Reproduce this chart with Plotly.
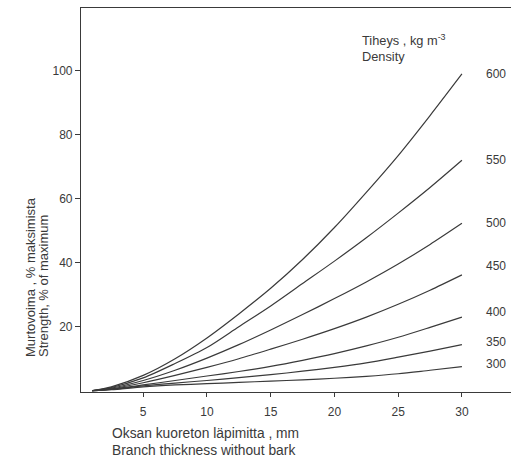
import plotly.graph_objects as go

# Branch thickness without bark, mm
thickness = [1, 2.5, 5, 7.5, 10, 12.5, 15, 17.5, 20, 22.5, 25, 27.5, 30]

# Strength, % of maximum, for each wood density (kg m^-3)
densities = ["600", "550", "500", "450", "400", "350", "300"]
strength_600 = [0, 1.2, 4.8, 10.0, 16.5, 24.0, 32.0, 41.0, 51.0, 62.0, 73.5, 86.0, 99.0]
strength_550 = [0, 1.0, 4.0, 8.5, 13.5, 20.0, 26.5, 33.5, 40.5, 47.8, 55.5, 63.5, 72.0]
strength_500 = [0, 0.8, 3.2, 6.4, 10.2, 14.4, 19.0, 23.8, 28.8, 34.0, 39.6, 45.7, 52.3]
strength_450 = [0, 0.6, 2.5, 4.8, 7.3, 10.0, 13.0, 16.1, 19.4, 23.0, 27.0, 31.4, 36.2]
strength_400 = [0, 0.5, 1.8, 3.2, 4.6, 6.0, 7.6, 9.5, 11.6, 14.0, 16.7, 19.8, 23.0]
strength_350 = [0, 0.4, 1.5, 2.4, 3.2, 4.1, 5.0, 6.1, 7.3, 8.7, 10.5, 12.4, 14.4]
strength_300 = [0, 0.3, 1.2, 1.8, 2.2, 2.6, 3.0, 3.4, 3.9, 4.5, 5.3, 6.4, 7.5]

x_ticks = [5, 10, 15, 20, 25, 30]
y_ticks = [20, 40, 60, 80, 100]

series = [strength_600, strength_550, strength_500, strength_450,
          strength_400, strength_350, strength_300]

INK = "#3a3a3a"
FONT = "Liberation Sans, Arial, Helvetica, sans-serif"

# plot area spans page x 81..511, y 8..392
PL, PT, PW, PH = 81, 8, 430, 384


def px(x):
    return (x - PL) / PW


def py(y):
    return 1 - (y - PT) / PH


fig = go.Figure()
for name, ys in zip(densities, series):
    fig.add_trace(go.Scatter(
        x=thickness, y=ys, mode="lines", name=name,
        line=dict(color=INK, width=1.2, shape="spline", smoothing=0.8),
        showlegend=False, hoverinfo="skip"))

# Curve labels at right
label_offsets = [0, 0, 0, 2.8, 1.5, 0.8, 0.8]
for name, ys, off in zip(densities, series, label_offsets):
    fig.add_annotation(x=31.7, y=ys[-1] + off, text=name, showarrow=False,
                       xanchor="left", yanchor="middle",
                       font=dict(size=12, color=INK, family=FONT))

# Legend title
fig.add_annotation(xref="paper", yref="paper", x=px(360), y=py(40),
                   text="Tiheys , kg m<sup>-3</sup>", showarrow=False,
                   xanchor="left", yanchor="middle",
                   font=dict(size=12.8, color=INK, family=FONT))
fig.add_annotation(xref="paper", yref="paper", x=px(360), y=py(56),
                   text="Density", showarrow=False,
                   xanchor="left", yanchor="middle",
                   font=dict(size=12.8, color=INK, family=FONT))

# Y title (two rotated lines, bottom-aligned)
for text, xc in [("Murtovoima , % maksimista", 30), ("Strength, % of maximum", 43)]:
    fig.add_annotation(xref="paper", yref="paper", x=px(xc), y=py(359),
                       text=text, showarrow=False, textangle=-90,
                       xanchor="center", yanchor="bottom",
                       font=dict(size=13, color=INK, family=FONT))

# X title (two lines, left-aligned)
for text, yc in [("Oksan kuoreton läpimitta , mm", 433), ("Branch thickness without bark", 450)]:
    fig.add_annotation(xref="paper", yref="paper", x=px(110), y=py(yc),
                       text=text, showarrow=False, xanchor="left", yanchor="middle",
                       font=dict(size=13.8, color=INK, family=FONT))

fig.update_xaxes(range=[0.12, 33.85], tickvals=x_ticks, showgrid=False, zeroline=False,
                 showline=True, linecolor=INK, linewidth=1.2, mirror=True,
                 ticks="outside", ticklen=4, tickcolor=INK, ticklabelstandoff=4,
                 tickfont=dict(size=12, color=INK, family=FONT))
fig.update_yaxes(range=[-0.4, 119.6], tickvals=y_ticks, showgrid=False, zeroline=False,
                 showline=True, linecolor=INK, linewidth=1.2,
                 ticks="outside", ticklen=5, tickcolor=INK, ticklabelstandoff=0,
                 tickfont=dict(size=12, color=INK, family=FONT))

fig.update_layout(width=511, height=461, margin=dict(l=81, r=0, t=8, b=69),
                  plot_bgcolor="white", paper_bgcolor="white")

fig.write_html(
    "out.html",
    config={"displayModeBar": False},
    post_script="document.body.style.margin='0';document.body.style.overflow='hidden';",
)
